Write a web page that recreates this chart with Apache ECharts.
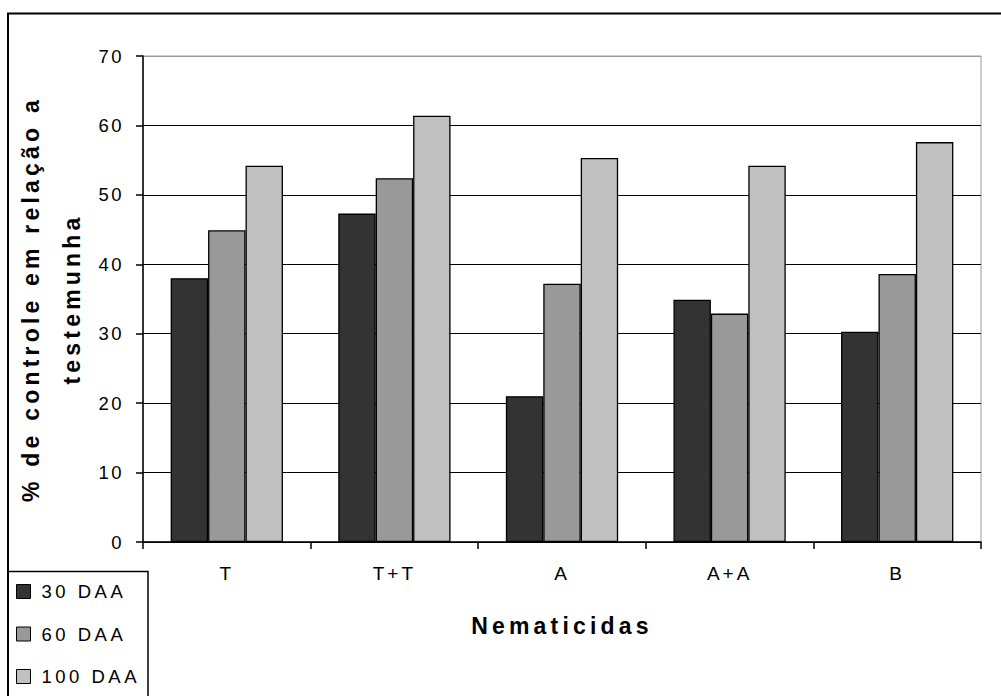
<!DOCTYPE html>
<html>
<head>
<meta charset="utf-8">
<script src="https://cdn.jsdelivr.net/npm/echarts@6/dist/echarts.min.js"></script>
<style>
html,body{margin:0;padding:0;background:#fff;}
#c{width:1001px;height:696px;}
</style>
</head>
<body>
<div id="c"></div>
<script>
// ---- data ----
const categories = ['T', 'T+T', 'A', 'A+A', 'B'];
const seriesNames = ['30 DAA', '60 DAA', '100 DAA'];
const daa30 = [38.0, 47.3, 21.0, 34.9, 30.3];
const daa60 = [44.9, 52.4, 37.2, 32.9, 38.6];
const daa100 = [54.2, 61.4, 55.3, 54.2, 57.6];
const yMin = 0, yMax = 70, yStep = 10;
const xTitle = 'Nematicidas';
const yTitle = ['% de controle em relação a', 'testemunha'];

// ---- styles ----
const FONT = 'Liberation Sans, Arial, sans-serif';
const colors = ['#333333', '#999999', '#c0c0c0'];
const seriesData = [daa30, daa60, daa100];

const chart = echarts.init(document.getElementById('c'), null, {renderer: 'svg'});

const option = {
  animation: false,
  backgroundColor: '#ffffff',
  textStyle: {fontFamily: FONT, color: '#000'},
  grid: {
    left: 143, right: 20, top: 56, bottom: 154,
    show: true, borderColor: '#9a9a9a', borderWidth: 1, backgroundColor: 'transparent'
  },
  legend: {
    orient: 'vertical',
    left: 16, top: 577.5, height: 200,
    padding: 0,
    itemWidth: 14, itemHeight: 14, itemGap: 14.5,
    icon: 'rect',
    data: seriesNames,
    itemStyle: {borderColor: '#000', borderWidth: 1},
    textStyle: {fontFamily: FONT, fontSize: 18.5, color: '#000', lineHeight: 20, padding: [0, 0, 8, 6]}
  },
  xAxis: {
    type: 'category',
    data: categories,
    boundaryGap: true,
    name: xTitle,
    nameLocation: 'middle',
    nameGap: 72,
    nameTextStyle: {fontFamily: FONT, fontSize: 23, fontWeight: 'bold', color: '#000'},
    axisLine: {show: true, lineStyle: {color: '#000', width: 1.5}},
    axisTick: {show: true, length: 7, inside: false, lineStyle: {color: '#000', width: 1.5}},
    axisLabel: {fontFamily: FONT, fontSize: 19, color: '#000', margin: 22},
    splitLine: {show: false}
  },
  yAxis: {
    type: 'value',
    min: yMin, max: yMax, interval: yStep,
    name: yTitle.join('\n'),
    nameLocation: 'middle',
    nameGap: 50,
    nameTextStyle: {fontFamily: FONT, fontSize: 23, fontWeight: 'bold', color: '#000', lineHeight: 41},
    axisLine: {show: true, lineStyle: {color: '#000', width: 1.5}},
    axisTick: {show: true, length: 7, inside: false, lineStyle: {color: '#000', width: 1.5}},
    axisLabel: {fontFamily: FONT, fontSize: 18.5, color: '#000', margin: 19},
    splitLine: {show: true, lineStyle: {color: ['#000', '#000', '#000', '#000', '#000', '#000', '#000', '#9a9a9a'], width: 1.2}}
  },
  series: seriesNames.map((n, i) => ({
    name: n,
    type: 'bar',
    data: seriesData[i],
    barGap: '0%',
    barCategoryGap: '33%',
    itemStyle: {color: colors[i], borderColor: '#000', borderWidth: 1.3}
  })),
  graphic: [
    {type: 'rect', shape: {x: 8, y: 13.5, width: 1100, height: 800}, style: {fill: 'none', stroke: '#000', lineWidth: 2}, silent: true, z: 100},
    {type: 'rect', shape: {x: 8, y: 571.5, width: 140, height: 200}, style: {fill: 'none', stroke: '#000', lineWidth: 1.5}, silent: true, z: 100}
  ]
};

chart.setOption(option);

function applySpacing() {
  document.querySelectorAll('#c svg text').forEach(t => {
    const s = t.textContent;
    let ls = 2.5;
    if (s === xTitle || yTitle.includes(s)) ls = 4.2;
    else if (seriesNames.includes(s)) ls = 3.5;
    else if (categories.includes(s)) ls = 3;
    t.setAttribute('letter-spacing', ls);
    t.style.letterSpacing = ls + 'px';
  });
}
applySpacing();
chart.on('finished', applySpacing);
setTimeout(applySpacing, 0);
setTimeout(applySpacing, 100);
setTimeout(applySpacing, 400);
</script>
</body>
</html>
